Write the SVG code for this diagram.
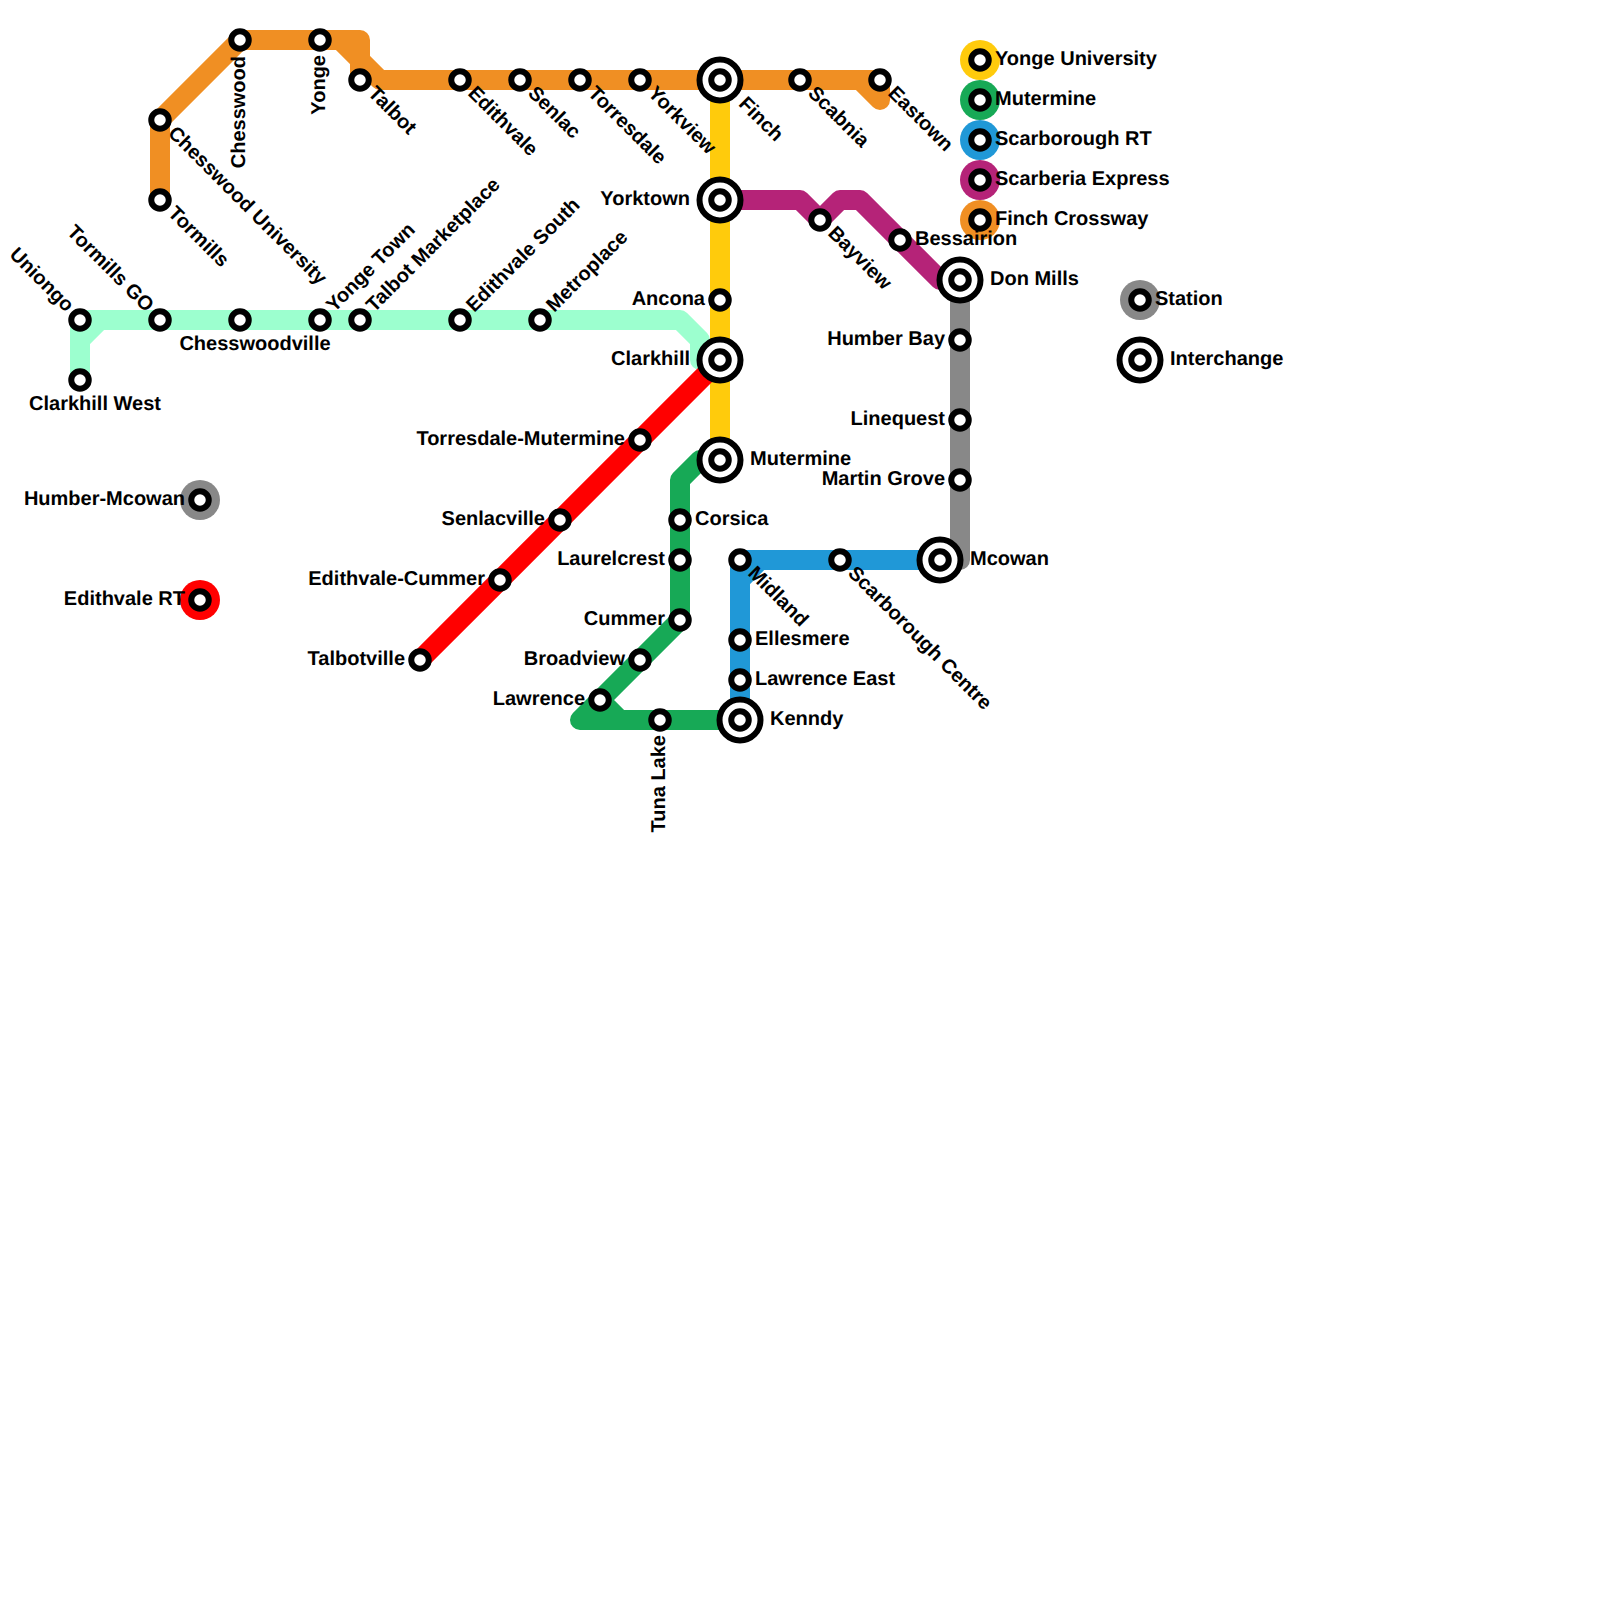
<svg xmlns="http://www.w3.org/2000/svg" width="1600" height="1600" viewBox="0 0 1600 1600">
<style>
text{font-family:"Liberation Sans",Arial,sans-serif;font-weight:700;font-size:20px;fill:#000;text-rendering:geometricPrecision}
.e{text-anchor:end}.m{text-anchor:middle}
.l{fill:none;stroke-width:20;stroke-linejoin:round;stroke-linecap:round}
.s{fill:#fff;stroke:#000;stroke-width:6}
.i{fill:#fff;stroke:#000;stroke-width:6}
</style>
<defs>
<g id="st"><circle class="s" r="8.75"/></g>
<g id="ic"><circle class="i" r="20.5"/><circle class="s" r="8.75"/></g>
</defs>
<rect width="1600" height="1600" fill="#fff"/>
<g id="connectors">
<path class="l" stroke="#9cffcf" d="M80 380V320H680L700 340V360H720M80 340L100 320"/>
<path class="l" stroke="#ffcb0c" d="M720 80V460"/>
<path class="l" stroke="#ff0000" d="M720 360L420 660"/>
<path class="l" stroke="#888888" d="M960 280V560H940"/>
<path class="l" stroke="#2098d7" d="M940 560H740V720M760 560L740 580"/>
<path class="l" stroke="#b52378" d="M720 200H800L820 220L840 200H860L940 280H960"/>
<path class="l" stroke="#17a956" d="M720 460H700L680 480V620L580 720H740M600 700L620 720"/>
<path class="l" stroke="#f08f23" d="M160 200V120L240 40H360V60L380 80H880V100L860 80M320 40H340L360 60V80"/>
</g>
<g id="legend-yonge-university"><circle cx="980" cy="60" r="20" fill="#ffcb0c"/><use href="#st" x="980" y="60"/><text x="995" y="65">Yonge University</text></g>
<g id="legend-mutermine"><circle cx="980" cy="100" r="20" fill="#17a956"/><use href="#st" x="980" y="100"/><text x="995" y="105">Mutermine</text></g>
<g id="legend-scarborough-rt"><circle cx="980" cy="140" r="20" fill="#2098d7"/><use href="#st" x="980" y="140"/><text x="995" y="145">Scarborough RT</text></g>
<g id="legend-scarberia-express"><circle cx="980" cy="180" r="20" fill="#b52378"/><use href="#st" x="980" y="180"/><text x="995" y="185">Scarberia Express</text></g>
<g id="legend-finch-crossway"><circle cx="980" cy="220" r="20" fill="#f08f23"/><use href="#st" x="980" y="220"/><text x="995" y="225">Finch Crossway</text></g>
<g id="legend-station"><circle cx="1140" cy="300" r="20" fill="#888888"/><use href="#st" x="1140" y="300"/><text x="1155" y="305">Station</text></g>
<g id="legend-interchange"><use href="#ic" x="1140" y="360"/><text x="1170" y="365">Interchange</text></g>
<g id="humber-mcowan"><circle cx="200" cy="500" r="20" fill="#888888"/><use href="#st" x="200" y="500"/><text class="e" x="185" y="505">Humber-Mcowan</text></g>
<g id="edithvale-rt"><circle cx="200" cy="600" r="20" fill="#ff0000"/><use href="#st" x="200" y="600"/><text class="e" x="185" y="605">Edithvale RT</text></g>
<g id="tormills"><use href="#st" x="160" y="200"/><text transform="translate(160 200) rotate(45)" x="15" y="5">Tormills</text></g>
<g id="chesswood-university"><use href="#st" x="160" y="120"/><text transform="translate(160 120) rotate(45)" x="15" y="5">Chesswood University</text></g>
<g id="chesswood"><use href="#st" x="240" y="40"/><text class="e" transform="translate(240 40) rotate(-90)" x="-16" y="5">Chesswood</text></g>
<g id="yonge"><use href="#st" x="320" y="40"/><text class="e" transform="translate(320 40) rotate(-90)" x="-15" y="5">Yonge</text></g>
<g id="talbot"><use href="#st" x="360" y="80"/><text transform="translate(360 80) rotate(45)" x="15" y="5">Talbot</text></g>
<g id="edithvale"><use href="#st" x="460" y="80"/><text transform="translate(460 80) rotate(45)" x="15" y="5">Edithvale</text></g>
<g id="senlac"><use href="#st" x="520" y="80"/><text transform="translate(520 80) rotate(45)" x="15" y="5">Senlac</text></g>
<g id="torresdale"><use href="#st" x="580" y="80"/><text transform="translate(580 80) rotate(45)" x="15" y="5">Torresdale</text></g>
<g id="yorkview"><use href="#st" x="640" y="80"/><text transform="translate(640 80) rotate(45)" x="15" y="5">Yorkview</text></g>
<g id="finch"><use href="#ic" x="720" y="80"/><text transform="translate(720 80) rotate(45)" x="30" y="5">Finch</text></g>
<g id="scabnia"><use href="#st" x="800" y="80"/><text transform="translate(800 80) rotate(45)" x="15" y="5">Scabnia</text></g>
<g id="eastown"><use href="#st" x="880" y="80"/><text transform="translate(880 80) rotate(45)" x="15" y="5">Eastown</text></g>
<g id="yorktown"><use href="#ic" x="720" y="200"/><text class="e" x="690" y="204.5">Yorktown</text></g>
<g id="bayview"><use href="#st" x="820" y="220"/><text transform="translate(820 220) rotate(45)" x="15" y="5">Bayview</text></g>
<g id="bessairion"><use href="#st" x="900" y="240"/><text x="915" y="245">Bessairion</text></g>
<g id="don-mills"><use href="#ic" x="960" y="280"/><text x="990" y="285">Don Mills</text></g>
<g id="humber-bay"><use href="#st" x="960" y="340"/><text class="e" x="945" y="345">Humber Bay</text></g>
<g id="linequest"><use href="#st" x="960" y="420"/><text class="e" x="945" y="425">Linequest</text></g>
<g id="martin-grove"><use href="#st" x="960" y="480"/><text class="e" x="945" y="484.5">Martin Grove</text></g>
<g id="mcowan"><use href="#ic" x="940" y="560"/><text x="970" y="565">Mcowan</text></g>
<g id="scarborough-centre"><use href="#st" x="840" y="560"/><text transform="translate(840 560) rotate(45)" x="15" y="5">Scarborough Centre</text></g>
<g id="midland"><use href="#st" x="740" y="560"/><text transform="translate(740 560) rotate(45)" x="15" y="5">Midland</text></g>
<g id="ellesmere"><use href="#st" x="740" y="640"/><text x="755" y="644.5">Ellesmere</text></g>
<g id="lawrence-east"><use href="#st" x="740" y="680"/><text x="755" y="684.5">Lawrence East</text></g>
<g id="kenndy"><use href="#ic" x="740" y="720"/><text x="770" y="724.5">Kenndy</text></g>
<g id="tuna-lake"><use href="#st" x="660" y="720"/><text class="e" transform="translate(660 720) rotate(-90)" x="-15" y="5">Tuna Lake</text></g>
<g id="lawrence"><use href="#st" x="600" y="700"/><text class="e" x="585" y="704.5">Lawrence</text></g>
<g id="broadview"><use href="#st" x="640" y="660"/><text class="e" x="625" y="664.5">Broadview</text></g>
<g id="cummer"><use href="#st" x="680" y="620"/><text class="e" x="665" y="624.5">Cummer</text></g>
<g id="laurelcrest"><use href="#st" x="680" y="560"/><text class="e" x="665" y="564.5">Laurelcrest</text></g>
<g id="corsica"><use href="#st" x="680" y="520"/><text x="695" y="524.5">Corsica</text></g>
<g id="mutermine"><use href="#ic" x="720" y="460"/><text x="750" y="464.5">Mutermine</text></g>
<g id="clarkhill"><use href="#ic" x="720" y="360"/><text class="e" x="690" y="364.5">Clarkhill</text></g>
<g id="ancona"><use href="#st" x="720" y="300"/><text class="e" x="705" y="304.5">Ancona</text></g>
<g id="torresdale-mutermine"><use href="#st" x="640" y="440"/><text class="e" x="625" y="444.5">Torresdale-Mutermine</text></g>
<g id="senlacville"><use href="#st" x="560" y="520"/><text class="e" x="545" y="524.5">Senlacville</text></g>
<g id="edithvale-cummer"><use href="#st" x="500" y="580"/><text class="e" x="485" y="584.5">Edithvale-Cummer</text></g>
<g id="talbotville"><use href="#st" x="420" y="660"/><text class="e" x="405" y="664.5">Talbotville</text></g>
<g id="uniongo"><use href="#st" x="80" y="320"/><text class="e" transform="translate(80 320) rotate(45)" x="-15" y="5">Uniongo</text></g>
<g id="clarkhill-west"><use href="#st" x="80" y="380"/><text class="m" x="95" y="409.5">Clarkhill West</text></g>
<g id="tormills-go"><use href="#st" x="160" y="320"/><text class="e" transform="translate(160 320) rotate(45)" x="-15" y="5">Tormills GO</text></g>
<g id="chesswoodville"><use href="#st" x="240" y="320"/><text class="m" x="255" y="349.5">Chesswoodville</text></g>
<g id="yonge-town"><use href="#st" x="320" y="320"/><text transform="translate(320 320) rotate(-45)" x="15" y="5">Yonge Town</text></g>
<g id="talbot-marketplace"><use href="#st" x="360" y="320"/><text transform="translate(360 320) rotate(-45)" x="15" y="5">Talbot Marketplace</text></g>
<g id="edithvale-south"><use href="#st" x="460" y="320"/><text transform="translate(460 320) rotate(-45)" x="15" y="5">Edithvale South</text></g>
<g id="metroplace"><use href="#st" x="540" y="320"/><text transform="translate(540 320) rotate(-45)" x="15" y="5">Metroplace</text></g>
</svg>
